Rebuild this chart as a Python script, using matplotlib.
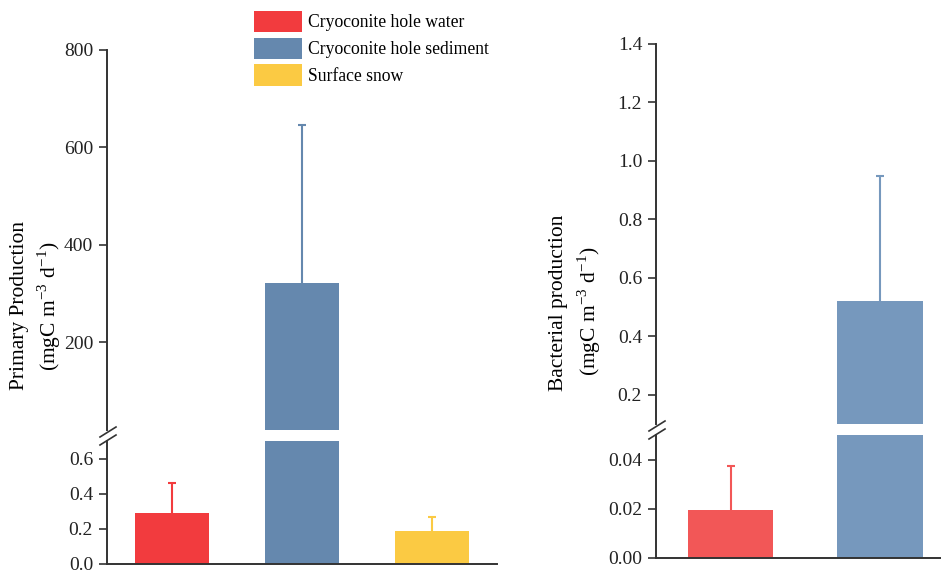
import matplotlib.pyplot as plt
from matplotlib.patches import Patch
from matplotlib.lines import Line2D

plt.rcParams['font.family'] = ['Liberation Serif', 'DejaVu Serif']
plt.rcParams['mathtext.fontset'] = 'stix'
plt.rcParams['font.size'] = 14

# data
groups = ['Cryoconite hole water', 'Cryoconite hole sediment', 'Surface snow']
pp_mean = [0.29, 321, 0.19]
pp_err = [0.17, 325, 0.075]
bp_mean = [0.0195, 0.52]
bp_err = [0.018, 0.43]

cols_left = ['#f23b3e', '#6588ae', '#fbca43']
cols_right = ['#f25757', '#7698bd']

W, H = 941, 571
fig = plt.figure(figsize=(W / 100, H / 100), dpi=100)


def box(x0, x1, ytop, ybot):
    # pixel box -> figure fraction
    return [x0 / W, (H - ybot) / H, (x1 - x0) / W, (ybot - ytop) / H]


def style(ax, top_part):
    for s in ['top', 'right']:
        ax.spines[s].set_visible(False)
    ax.spines['left'].set_color('#333333')
    ax.spines['left'].set_linewidth(1.4)
    if top_part:
        ax.spines['bottom'].set_visible(False)
    else:
        ax.spines['bottom'].set_color('#333333')
        ax.spines['bottom'].set_linewidth(1.4)
    ax.tick_params(axis='y', direction='out', length=6, width=1.2, color='#333333',
                   labelcolor='#222222', pad=4)
    ax.set_xticks([])
    ax.patch.set_alpha(0)


def draw(ax, means, errs, cols):
    x = range(len(means))
    ax.bar(x, means, width=0.575, color=cols, zorder=2)
    for i in x:
        top = means[i] + errs[i]
        ax.vlines(i, means[i], top, colors=cols[i], lw=1.5, zorder=1)
        ax.plot([i], [top], marker='_', ms=6, mew=1.5, color=cols[i], zorder=1)
    ax.set_xlim(-0.5, 2.5)


# left panel: primary production
axl_top = fig.add_axes(box(107, 497, 50, 430))
axl_bot = fig.add_axes(box(107, 497, 441, 564))
for ax in (axl_top, axl_bot):
    draw(ax, pp_mean, pp_err, cols_left)
axl_top.set_ylim(20, 800)
axl_top.set_yticks([200, 400, 600, 800])
axl_bot.set_ylim(0, 0.7)
axl_bot.set_yticks([0, 0.2, 0.4, 0.6])
axl_bot.set_yticklabels(['0.0', '0.2', '0.4', '0.6'])
style(axl_top, True)
style(axl_bot, False)

# right panel: bacterial production
axr_top = fig.add_axes(box(656, 1103.5, 44, 424))
axr_bot = fig.add_axes(box(656, 1103.5, 435, 558))
for ax in (axr_top, axr_bot):
    draw(ax, bp_mean, bp_err, cols_right)
axr_top.set_ylim(0.1, 1.4)
axr_top.set_yticks([0.2, 0.4, 0.6, 0.8, 1.0, 1.2, 1.4])
axr_top.set_yticklabels(['0.2', '0.4', '0.6', '0.8', '1.0', '1.2', '1.4'])
axr_bot.set_ylim(0, 0.05)
axr_bot.set_yticks([0, 0.02, 0.04])
axr_bot.set_yticklabels(['0.00', '0.02', '0.04'])
style(axr_top, True)
style(axr_bot, False)

# axis break marks
def brk(xc, yc):
    for dy in (-4, 4):
        fig.add_artist(Line2D([(xc - 8) / W, (xc + 8) / W],
                              [(H - (yc + dy + 5)) / H, (H - (yc + dy - 5)) / H],
                              color='#333333', lw=1.2))

brk(108, 436)
brk(657, 430)

unit = '(mgC m$^{\\mathregular{-3}}$ d$^{\\mathregular{-1}}$)'
fig.text(20 / W, 1 - 306 / H, 'Primary Production', rotation=90, ha='center', va='center', fontsize=15.5)
fig.text(49 / W, 1 - 306 / H, unit, rotation=90, ha='center', va='center', fontsize=15.5)
fig.text(558 / W, 1 - 303 / H, 'Bacterial production', rotation=90, ha='center', va='center', fontsize=15.5)
fig.text(589 / W, 1 - 311 / H, unit, rotation=90, ha='center', va='center', fontsize=15.5)

handles = [Patch(facecolor=c) for c in cols_left]
fig.legend(handles, groups, loc='upper left', bbox_to_anchor=(245 / W, 1 - 2 / H),
           frameon=False, borderpad=0, handlelength=2.75, handleheight=1.5,
           labelspacing=0.3, handletextpad=0.3, fontsize=12.7)

fig.savefig('out.png', dpi=100)
